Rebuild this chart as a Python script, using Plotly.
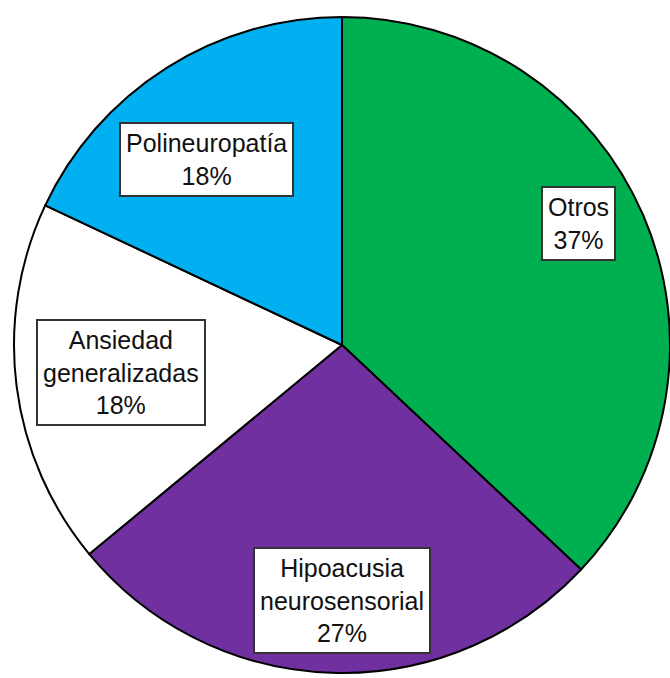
import math
import plotly.graph_objects as go

# Distribution of diagnoses
labels = ["Otros", "Hipoacusia<br>neurosensorial", "Ansiedad<br>generalizadas", "Polineuropatía"]
values = [37, 27, 18, 18]
colors = ["#00B050", "#7030A0", "#FFFFFF", "#00B0F0"]

# Where each boxed label sits: fraction of the radius and angular nudge (deg)
label_radius = [0.81, 0.78, 0.68, 0.70]
label_nudge = [-3.8, -1.8, 0.0, -3.9]

W, H = 670, 678
M = dict(l=14, r=0, t=15, b=3)

fig = go.Figure(go.Pie(
    labels=labels,
    values=values,
    sort=False,
    direction="clockwise",
    rotation=0,
    marker=dict(colors=colors, line=dict(color="#000000", width=2)),
    textinfo="none",
    hoverinfo="skip",
    showlegend=False,
))

# Pie geometry in pixels (plotly fits the circle to the smaller side of the plot area)
pw = W - M["l"] - M["r"]
ph = H - M["t"] - M["b"]
rad = min(pw, ph) / 2
cx = M["l"] + pw / 2
cy = M["t"] + ph / 2

total = sum(values)
start = 0.0
for lab, val, rf, nd in zip(labels, values, label_radius, label_nudge):
    mid = (start + val / 2) / total * 360 + nd
    start += val
    px = cx + rf * rad * math.sin(math.radians(mid))
    py = cy - rf * rad * math.cos(math.radians(mid))
    fig.add_annotation(
        x=(px - M["l"]) / pw,
        y=1 - (py - M["t"]) / ph,
        xref="paper", yref="paper",
        text=f"{lab}<br>{val}%",
        showarrow=False,
        align="center",
        font=dict(family="Liberation Sans, Arial, sans-serif", size=25, color="#111111"),
        bgcolor="#FFFFFF",
        bordercolor="#333333",
        borderwidth=2,
        borderpad=5,
        xanchor="center", yanchor="middle",
    )

fig.update_layout(
    width=W, height=H,
    margin=M,
    paper_bgcolor="#FFFFFF",
    plot_bgcolor="#FFFFFF",
)

fig.write_html("out.html")
